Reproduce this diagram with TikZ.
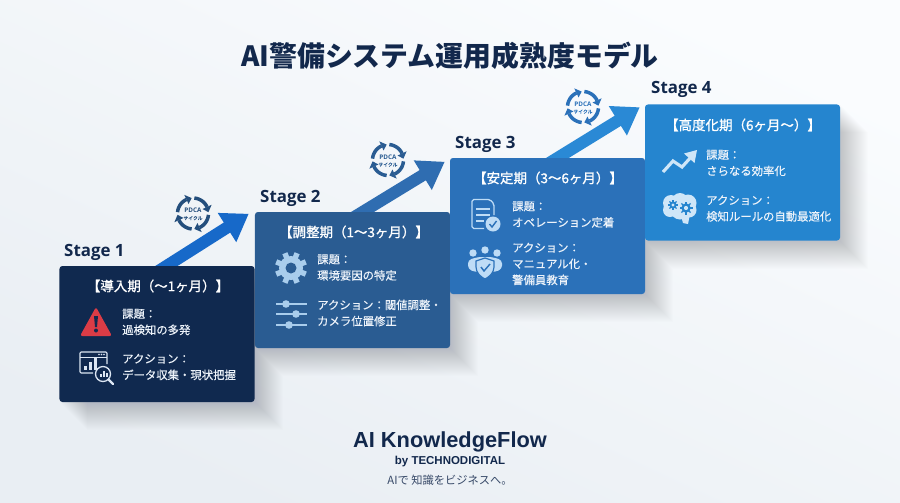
\documentclass[tikz,border=0pt]{standalone}
\usepackage{fontspec}
\setmainfont{Noto Sans CJK JP}
\newfontfamily\bodyfont{Noto Sans CJK JP}[FakeBold=0.35]
\newfontfamily\headfont{Noto Sans CJK JP}[FakeBold=1.1]
\newfontfamily\stagefont{Open Sans}
\newfontfamily\brandfont{Liberation Sans}
\usepackage{tikz}
\usetikzlibrary{arrows.meta,backgrounds}

\definecolor{navy}{HTML}{12284C}
\definecolor{boxa}{HTML}{10294F}
\definecolor{boxb}{HTML}{2A5C92}
\definecolor{boxc}{HTML}{2B71B9}
\definecolor{boxd}{HTML}{2585CF}
\definecolor{arrowa}{HTML}{1769C9}
\definecolor{arrowb}{HTML}{2F6DB1}
\definecolor{arrowc}{HTML}{2A89D5}
\definecolor{bodytext}{HTML}{EDF3FA}
\definecolor{icona}{HTML}{DCE6F3}
\definecolor{iconb}{HTML}{A9CDEC}
\definecolor{iconc}{HTML}{BEDCF6}
\definecolor{icond}{HTML}{CFE6F8}
\definecolor{warnred}{HTML}{DB3C46}
\definecolor{bglight}{HTML}{FAFCFE}
\definecolor{bgdark}{HTML}{E9EEF3}

\tikzset{
    pics/pdca/.style 2 args={code={
        \foreach \a [evaluate=\a as \b using \a+60, evaluate=\a as \c using \a+80] in {5,95,185,275} {
            \draw[#1, line width=3pt] plot[domain=\a:\b, samples=8] (\x:15.5);
            \fill[#1] (\b:10.5) -- (\b:20.5) -- (\c:15.5) -- cycle;
        }
        \node[#1, font=\stagefont\bfseries\fontsize{5.4}{6}\selectfont] (#2-top) at (0,-2.8) {PDCA};
        \node[#1, font=\bodyfont\fontsize{4.1}{5}\selectfont] (#2-sub) at (0,4.6) {サイクル};
    }},
    pics/warning/.style={code={
        \fill[warnred, rounded corners=2pt] (0,-15) -- (16,14) -- (-16,14) -- cycle;
        \fill[boxa] (-2,-6) -- (2,-6) -- (1,5) -- (-1,5) -- cycle;
        \fill[boxa] (0,8.5) circle[radius=2];
    }},
    pics/dashboard/.style={code={
        \draw[icona, line width=.9pt, rounded corners=1pt] (-7,6) -- (-20,6) -- (-20,-15) -- (7,-15) -- (7,-3);
        \draw[icona, line width=.8pt] (-20,-10) -- (7,-10);
        \foreach \x in {0,2.5,5} \fill[icona] (\x-1,-12.5) circle[radius=.8];
        \foreach \x/\h in {-16/4,-11/8,-6/12} \fill[icona] (\x,3) rectangle ++(3,-\h);
        \draw[icona, line width=1.1pt] (3,7) circle[radius=7.5];
        \draw[icona, line width=2pt, line cap=round] (8.5,12.5) -- (13,17);
        \foreach \x/\h in {0/3,3/6,6/4} \fill[icona] (\x,10) rectangle ++(1.6,-\h);
    }},
    pics/gear/.style 2 args={code={
        \foreach \a in {0,45,...,315} \draw[#1, line width=4.6pt] (0,0) -- (\a+22.5:16);
        \fill[#1] (0,0) circle[radius=12];
        \fill[#2] (0,0) circle[radius=5.5];
    }},
    pics/sliders/.style={code={
        \foreach \y/\k in {-10/-5,0/5,11/-2} {
            \draw[iconb, line width=1.1pt] (-15,\y) -- (16,\y);
            \fill[iconb] (\k,\y) circle[radius=3.8];
        }
    }},
    pics/document/.style={code={
        \draw[iconc, line width=1.1pt, rounded corners=1.5pt] (1,14.5) -- (-11,14.5) -- (-11,-14.5) -- (7,-14.5) -- (11,-10) -- (11,1);
        \foreach \y/\w in {-5/14,1/14,7/8} \draw[iconc, line width=1.1pt] (-7,\y) -- ++(\w,0);
        \fill[iconc] (10,10) circle[radius=7.5];
        \draw[boxc, line width=1.2pt] (6.5,10) -- (9,13) -- (13.5,7);
    }},
    pics/guards/.style={code={
        \foreach \x/\y in {-12/-10,0/-13,12/-10} \fill[iconc] (\x,\y) circle[radius=3.7];
        \fill[iconc, rounded corners=3pt] (-17,6) -- (-17,-3) -- (-7,-6) -- (7,-6) -- (17,-3) -- (17,6) -- (10,9) -- (-10,9) -- cycle;
        \fill[iconc, draw=boxc, line width=1pt] (0,-5) -- (9,-2) -- (9,4) .. controls (9,10) and (4,14) .. (0,16) .. controls (-4,14) and (-9,10) .. (-9,4) -- (-9,-2) -- cycle;
        \draw[boxc, line width=1.2pt] (-4,4) -- (-1,8) -- (5,1);
    }},
    pics/trend/.style={code={
        \draw[icond, line width=2.7pt] (-16,9) -- (-6,-2) -- (3,4) -- (13,-7);
        \fill[icond] (18,-13) -- (15.5,0) -- (5,-9.5) -- cycle;
    }},
    pics/brain/.style={code={
        \fill[icond] (-9,-5) circle[radius=8] (0,-7) circle[radius=8] (8,-5) circle[radius=8.5] (-10,2) circle[radius=7] (9,2) circle[radius=7.5] (0,2) circle[radius=9.5];
        \fill[icond] (1,8) -- (10,6) -- (8,16) -- (3,15) -- cycle;
        \foreach \x/\y/\r in {-7/-3/5,6/0/6.5} {
            \foreach \a in {0,45,...,315} \draw[boxd, line width=1pt] (\x,\y) -- ++(\a:\r);
            \fill[boxd] (\x,\y) circle[radius=\r*.72];
            \fill[icond] (\x,\y) circle[radius=\r*.32];
        }
    }},
}

\begin{document}
\begin{tikzpicture}[
    x=0.03cm, y=-0.03cm,
    stagebox/.style={rectangle, rounded corners=2.5pt, minimum width=5.85cm, minimum height=4.08cm, inner sep=0pt},
    heading/.style={text=white, font=\headfont\fontsize{11.5}{13}\selectfont},
    bodytxt/.style={text=bodytext, anchor=west, align=left, inner sep=0pt, font=\bodyfont\fontsize{9.7}{13.8}\selectfont},
    stagelabel/.style={text=navy, anchor=west, inner sep=0pt, font=\stagefont\bfseries\fontsize{14.4}{15}\selectfont},
    flow/.style={line width=10.2pt, -{Triangle[length=22pt, width=28pt]}},
]
\useasboundingbox (0,0) rectangle (900,502);

% Stage boxes
\node[stagebox, fill=boxa] (s1) at (157,334) {};
\node[stagebox, fill=boxb] (s2) at (352.5,280) {};
\node[stagebox, fill=boxc] (s3) at (547.5,226) {};
\node[stagebox, fill=boxd] (s4) at (742.5,172.5) {};

% Background, shadows and arrows between stages
\begin{pgfonlayer}{background}
\shade[top color=bglight, bottom color=bgdark, shading angle=-25] (0,0) rectangle (900,502);
\foreach \s in {s1,s2,s3,s4}
    \foreach \i in {1,2,...,28}
        \fill[navy, opacity=.0075] ([shift={(\i,\i)}]\s.north west) rectangle ([shift={(\i,\i)}]\s.south east);
\draw[flow, arrowa] ([shift={(-6,10)}]s1.north) -- ([shift={(-6,2)}]s2.north west);
\draw[flow, arrowb] ([shift={(-6,10)}]s2.north) -- ([shift={(-5,4)}]s3.north west);
\draw[flow, arrowc] ([shift={(-6,10)}]s3.north) -- ([shift={(-5,3)}]s4.north west);
\end{pgfonlayer}

% Title
\node[text=navy, font=\bfseries\fontsize{23.8}{26}\selectfont] (title) at (450,56) {AI警備システム運用成熟度モデル};

% Stage labels
\node[stagelabel] (l1) at (64,252) {Stage 1};
\node[stagelabel] (l2) at (260,198) {Stage 2};
\node[stagelabel] (l3) at (455,144) {Stage 3};
\node[stagelabel] (l4) at (651,89) {Stage 4};

% PDCA cycles
\pic at (193,213.5) {pdca={boxb!85!black}{c1}};
\pic at (388,160) {pdca={boxb}{c2}};
\pic at (583,107) {pdca={boxc}{c3}};

% Stage 1
\node[heading] (h1) at (158,286) {【導入期（～1ヶ月）】};
\pic at (96,322) {warning};
\node[bodytxt] (i1) at (122,322) {課題：\\過検知の多発};
\pic at (100,367) {dashboard};
\node[bodytxt] (a1) at (122,367) {アクション：\\データ収集・現状把握};

% Stage 2
\node[heading] (h2) at (354,232) {【調整期（1～3ヶ月）】};
\pic at (291,268) {gear={iconb}{boxb}};
\node[bodytxt] (i2) at (317,267.5) {課題：\\環境要因の特定};
\pic at (291,314) {sliders};
\node[bodytxt] (a2) at (317,313) {アクション：閾値調整・\\カメラ位置修正};

% Stage 3
\node[heading] (h3) at (548,178) {【安定期（3～6ヶ月）】};
\pic at (483,214) {document};
\node[bodytxt] (i3) at (512,214.5) {課題：\\オペレーション定着};
\pic at (485,263) {guards};
\node[bodytxt] (a3) at (512,264) {アクション：\\マニュアル化・\\警備員教育};

% Stage 4
\node[heading] (h4) at (743,125) {【高度化期（6ヶ月～）】};
\pic at (679,163) {trend};
\node[bodytxt] (i4) at (706,163) {課題：\\さらなる効率化};
\pic at (680,208) {brain};
\node[bodytxt] (a4) at (706,208.5) {アクション：\\検知ルールの自動最適化};

% Footer
\node[text=navy, font=\brandfont\bfseries\fontsize{18.6}{20}\selectfont] (brand) at (450,441.5) {AI KnowledgeFlow};
\node[text=navy, font=\brandfont\bfseries\fontsize{9.8}{11}\selectfont] (by) at (450,462) {by TECHNODIGITAL};
\node[text=navy!85!white, font=\fontsize{9.6}{11}\selectfont] (tag) at (450,480) {AIで 知識をビジネスへ。};

\end{tikzpicture}
\end{document}
